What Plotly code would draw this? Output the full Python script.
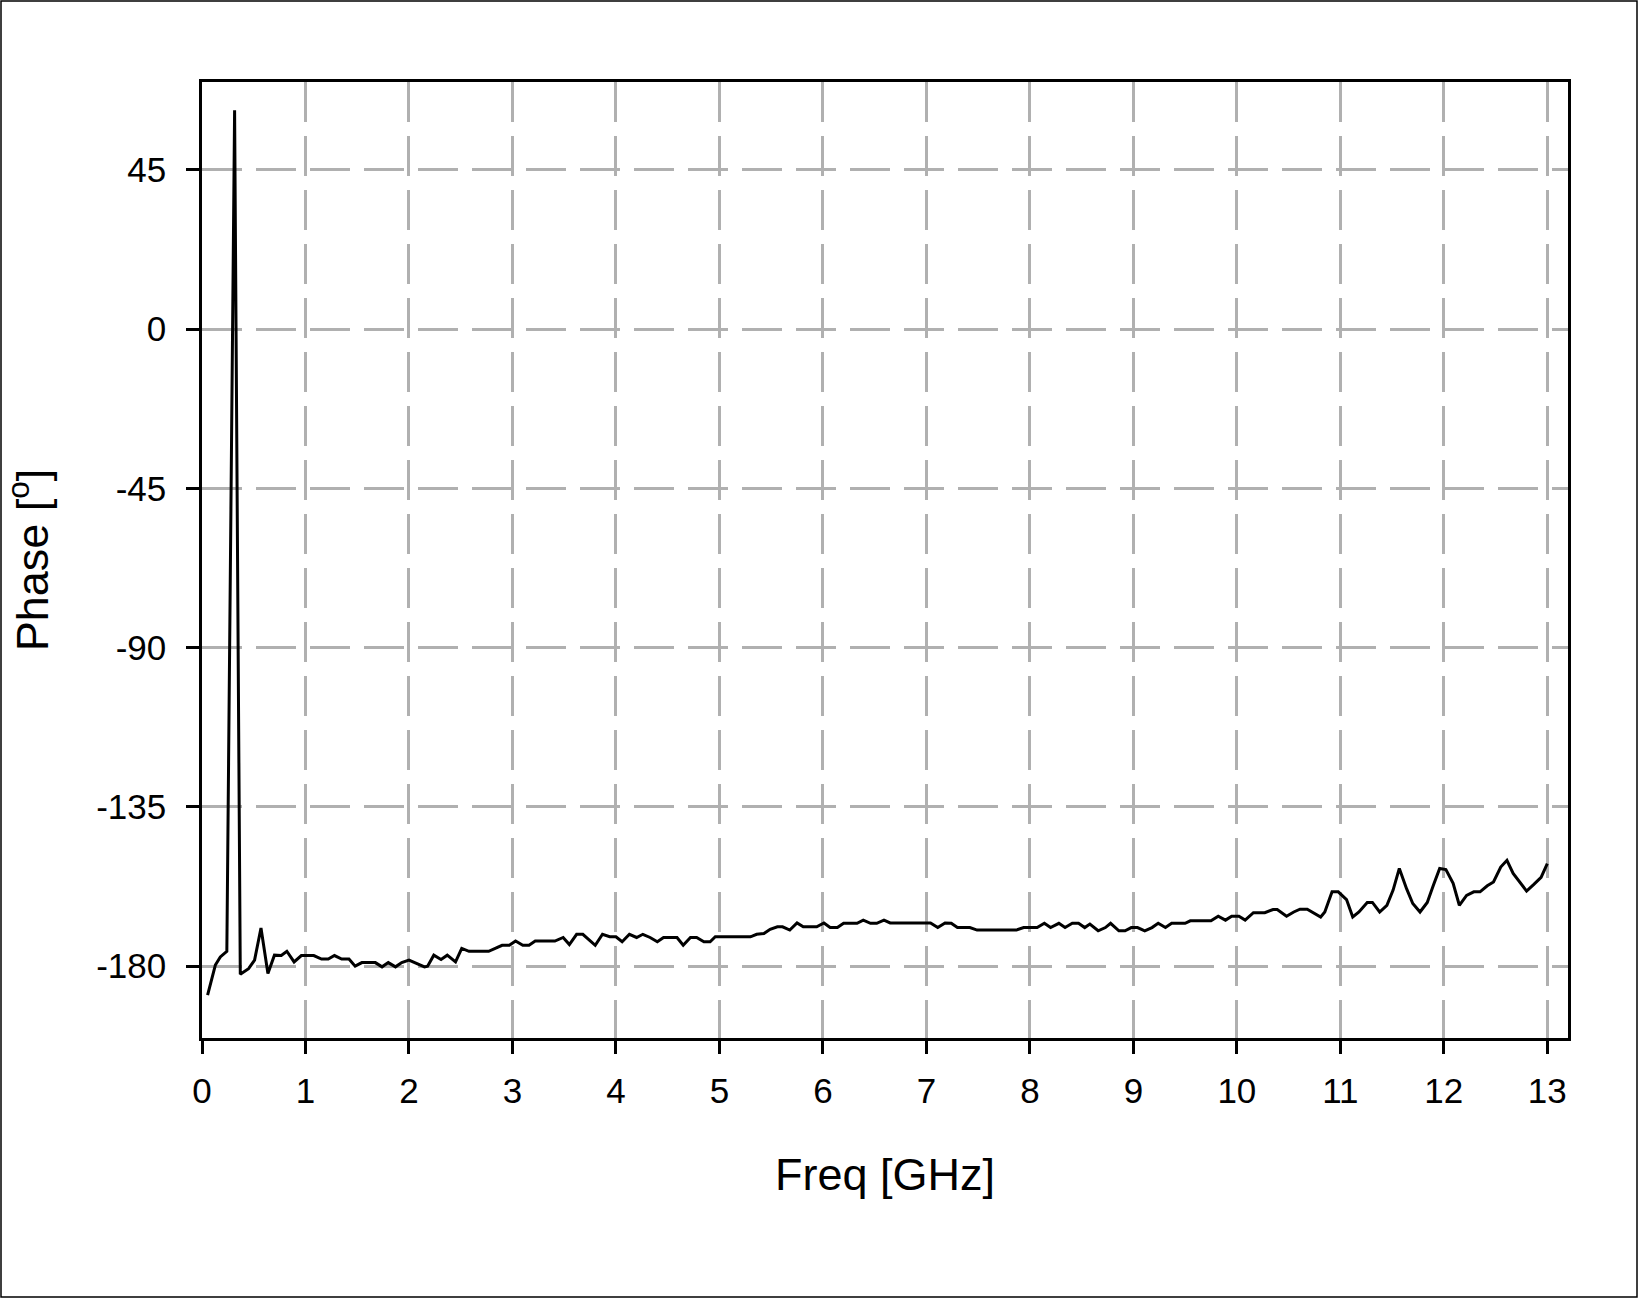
import plotly.graph_objects as go

# frequency [GHz] and phase [deg]
freq = [0.054, 0.129, 0.177, 0.24, 0.315, 0.37, 0.45, 0.508, 0.57, 0.637, 0.70, 0.766,
        0.82, 0.89, 0.96, 1.08, 1.155, 1.22, 1.28, 1.35, 1.42, 1.48, 1.545, 1.675, 1.74,
        1.80, 1.87, 1.93, 2.0, 2.08, 2.15, 2.18, 2.24, 2.31, 2.37, 2.45, 2.51, 2.58, 2.77,
        2.90, 2.97, 3.03, 3.10, 3.16, 3.22, 3.41, 3.49, 3.55, 3.62, 3.68, 3.80, 3.87, 3.94,
        4.00, 4.06, 4.13, 4.20, 4.26, 4.33, 4.40, 4.46, 4.59, 4.65, 4.72, 4.78, 4.85, 4.91,
        4.96, 5.30, 5.36, 5.43, 5.49, 5.56, 5.61, 5.68, 5.75, 5.81, 5.94, 6.01, 6.07, 6.14,
        6.20, 6.33, 6.39, 6.46, 6.52, 6.59, 6.65, 7.04, 7.11, 7.18, 7.24, 7.30, 7.42, 7.49,
        7.87, 7.94, 8.07, 8.14, 8.20, 8.28, 8.34, 8.41, 8.47, 8.53, 8.58, 8.66, 8.73, 8.78,
        8.86, 8.92, 8.98, 9.04, 9.11, 9.18, 9.24, 9.31, 9.37, 9.50, 9.55, 9.75, 9.82, 9.89,
        9.95, 10.02, 10.08, 10.16, 10.27, 10.35, 10.39, 10.48, 10.55, 10.61, 10.68, 10.74,
        10.81, 10.85, 10.92, 10.98, 11.06, 11.12, 11.18, 11.26, 11.31, 11.38, 11.45, 11.51,
        11.57, 11.64, 11.70, 11.77, 11.84, 11.90, 11.96, 12.02, 12.09, 12.15, 12.22, 12.29,
        12.35, 12.42, 12.48, 12.55, 12.61, 12.67, 12.74, 12.80, 12.87, 12.94, 13.0]

phase = [-188.2, -179.7, -177.4, -175.8, 61.8, -182.3, -180.7, -178.3, -169.2, -182.1, -176.9, -177,
         -175.8, -178.8, -177, -177, -178, -178, -177, -178, -178, -180, -179, -179, -180.2,
         -179, -180.2, -179, -178.3, -179.3, -180.2, -180, -176.9, -178.1, -176.9, -178.8, -175, -175.8, -175.8,
         -174.1, -174.1, -172.9, -174.1, -174.1, -172.9, -172.9, -171.9, -173.9, -171, -171, -174.1, -171, -171.7,
         -171.7, -173.1, -171, -171.9, -171, -171.9, -173.1, -171.9, -171.9, -174.1, -171.9, -171.9, -173.1, -173.1,
         -171.7, -171.7, -171, -170.8, -169.6, -168.9, -168.9, -169.8, -167.8, -168.9, -168.9, -167.8, -169.1, -169.1,
         -167.9, -167.9, -167, -167.9, -167.9, -167, -167.8, -167.8, -169.1, -167.8, -167.9, -169.1, -169.1, -169.8,
         -169.8, -169.1, -169.1, -167.9, -169.1, -167.9, -169.1, -167.9, -167.9, -169.1, -168.1, -170, -169.1, -167.9,
         -170, -170, -169.1, -169.1, -170, -169.1, -167.9, -169.1, -167.9, -167.9, -167.2, -167.2, -165.9, -167,
         -165.9, -165.9, -167, -164.9, -164.9, -164, -164, -165.9, -164.7, -163.9, -163.9, -164.9,
         -166.1, -164.7, -159, -159, -161.2, -166.1, -164.7, -162, -162, -164.7, -162.8, -158.5,
         -152.4, -158.1, -162.3, -164.7, -162, -157.1, -152.4, -152.7, -156.6, -162.8, -160, -159,
         -159, -157.3, -156.2, -152, -150.1, -153.8, -156.6, -158.8, -156.9, -154.9, -151]

x_ticks = list(range(0, 14))
y_ticks = [-180, -135, -90, -45, 0, 45]
y_tick_labels = ["-180", "-135", "-90", "-45", "0", "45"]

W, H = 1638, 1298
ml, mr, mt, mb = 202, 70, 82, 260
pw, ph = W - ml - mr, H - mt - mb

font = "Liberation Sans, Arial, sans-serif"

fig = go.Figure()
fig.add_trace(go.Scatter(x=freq, y=phase, mode="lines",
                         line=dict(color="black", width=3), showlegend=False))

axis_common = dict(
    showline=True, linecolor="black", linewidth=2.5, mirror=True,
    ticks="outside", ticklen=13, tickwidth=2.5, tickcolor="black",
    showgrid=True, gridcolor="#b0b0b0", gridwidth=2.5, griddash="40px,14px",
    zeroline=False, tickfont=dict(family=font, size=35, color="black"),
)

fig.update_xaxes(range=[0, 13.2], tickvals=x_ticks, ticklabelstandoff=7,
                 title=dict(text="Freq [GHz]", font=dict(family=font, size=45, color="black"), standoff=50),
                 **axis_common)
fig.update_yaxes(range=[-200.3, 69.8], tickvals=y_ticks, ticktext=y_tick_labels, ticklabelstandoff=13,
                 title=dict(text="Phase [<sup>o</sup>]", font=dict(family=font, size=45, color="black"), standoff=35),
                 **axis_common)

# thin frame around the whole picture
fig.add_shape(type="rect", xref="paper", yref="paper",
              x0=-(ml - 1) / pw, x1=1 + (mr - 1) / pw,
              y0=-(mb - 1) / ph, y1=1 + (mt - 1) / ph,
              line=dict(color="black", width=1.5))

fig.update_layout(width=W, height=H, margin=dict(l=ml, r=mr, t=mt, b=mb),
                  plot_bgcolor="white", paper_bgcolor="white",
                  font=dict(family=font))

fig.write_html("out.html", config={"displayModeBar": False},
               post_script="document.body.style.margin = '0';")
